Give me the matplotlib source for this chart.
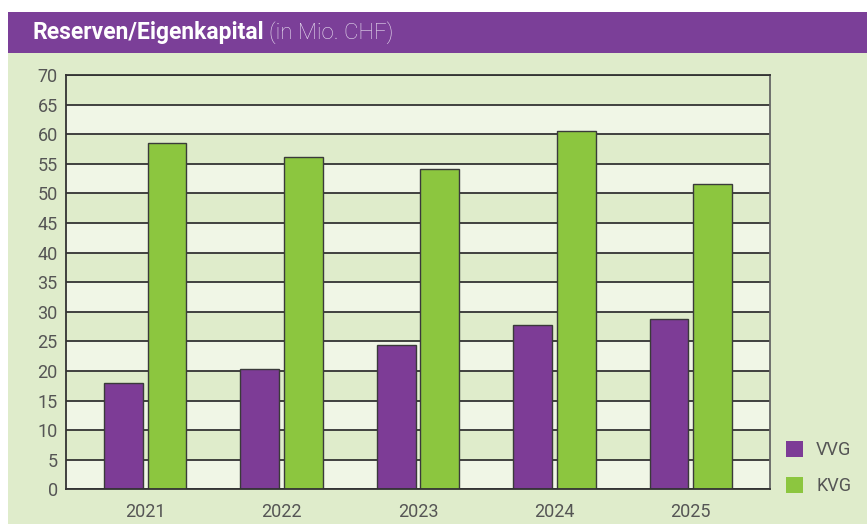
import matplotlib
matplotlib.use("Agg")
import matplotlib.pyplot as plt
from matplotlib.patches import Rectangle
import numpy as np

years = ["2021", "2022", "2023", "2024", "2025"]
vvg = [17.9, 20.4, 24.3, 27.7, 28.8]
kvg = [58.5, 56.2, 54.2, 60.6, 51.5]
series_names = ["VVG", "KVG"]
yticks = list(range(0, 75, 5))

PURPLE = "#7d3c96"
GREEN = "#8cc63f"
BG = "#dfeccb"
LIGHT = "#f0f6e6"
GRID = "#333333"
TXT = "#555555"

W, H = 867, 524
fig = plt.figure(figsize=(W / 100, H / 100), dpi=100)
fig.patch.set_facecolor("white")

# background panels
fig.patches.append(Rectangle((8 / W, 0), 1 - 8 / W, (H - 53) / H, transform=fig.transFigure,
                             facecolor=BG, edgecolor="none", zorder=-2))
fig.patches.append(Rectangle((8 / W, (H - 53) / H), 1 - 8 / W, 41 / H, transform=fig.transFigure,
                             facecolor="#7b3f98", edgecolor="none", zorder=-2))

t1 = fig.text(32 / W, (H - 33) / H, "Reserven/Eigenkapital", color="white", fontsize=16.5,
              fontweight="bold", family="Roboto", va="center", ha="left")
fig.canvas.draw()
bb = t1.get_window_extent()
fig.text(bb.x1 / W + 5 / W, (H - 33) / H, "(in Mio. CHF)", color="#e6dcef", fontsize=16,
         family="Roboto", fontweight="light", va="center", ha="left")

ax = fig.add_axes([66 / W, (H - 489.3) / H, (770 - 66) / W, (489.3 - 75) / H])
ax.set_zorder(1)
ax.set_facecolor(BG)
ax.set_xlim(-0.58, 4.58)
ax.set_ylim(0, 70)

for i, lo in enumerate(yticks[:-1]):
    ax.axhspan(lo, lo + 5, facecolor=LIGHT if i % 2 == 0 else BG, edgecolor="none", zorder=0)
for t in yticks:
    ax.axhline(t, color=GRID, lw=1.3, zorder=1)

x = np.arange(len(years))
bw = 0.285
off = 0.16
ax.bar(x - off, vvg, bw, color=PURPLE, edgecolor="#3a3a3a", lw=1, zorder=2, label=series_names[0])
ax.bar(x + off, kvg, bw, color=GREEN, edgecolor="#3a3a3a", lw=1, zorder=2, label=series_names[1])

ax.set_yticks(yticks)
ax.set_yticklabels([str(t) for t in yticks])
ax.set_xticks(x)
ax.set_xticklabels(years)
ax.tick_params(axis="both", length=0, colors=TXT, labelsize=13)
ax.tick_params(axis="y", pad=6)
ax.tick_params(axis="x", pad=10)
for lab in ax.get_xticklabels() + ax.get_yticklabels():
    lab.set_family("Roboto")
for s in ax.spines.values():
    s.set_color(GRID)
    s.set_linewidth(1.3)
ax.spines["right"].set_color("#666666")

leg = fig.legend(loc="upper left", bbox_to_anchor=(770 / W, (H - 425) / H), frameon=False,
                 handlelength=0.95, handleheight=0.95, labelspacing=1.0, handletextpad=0.7,
                 prop={"family": "Roboto", "size": 13})
for txt in leg.get_texts():
    txt.set_color(TXT)
for p in leg.get_patches():
    p.set_edgecolor("none")

fig.savefig("out.png", dpi=100)
